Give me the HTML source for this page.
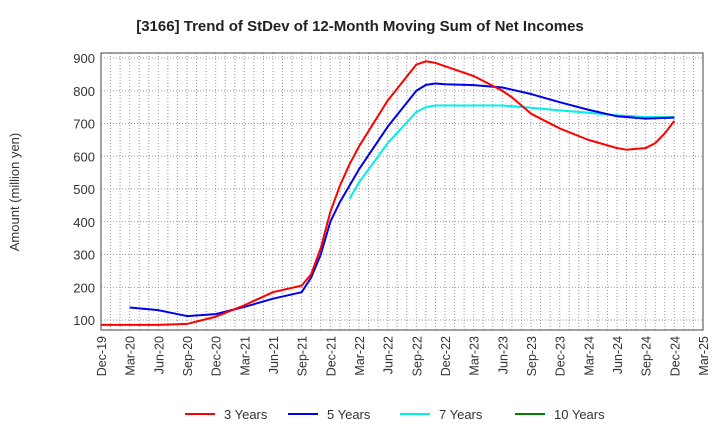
<!DOCTYPE html>
<html><head><meta charset="utf-8"><style>
body{margin:0;background:#fff;width:720px;height:440px;overflow:hidden;font-family:"Liberation Sans",sans-serif}
</style></head><body>
<svg id="c" width="720" height="440" xmlns="http://www.w3.org/2000/svg">
<text x="360" y="31" text-anchor="middle" font-size="15" font-weight="bold" fill="#222">[3166]  Trend of StDev of 12-Month Moving Sum of Net Incomes</text>
<text transform="translate(19,192) rotate(-90)" text-anchor="middle" font-size="13" fill="#333">Amount (million yen)</text>
<g id="grid"></g><g id="series"></g><g id="axes"></g>
<g font-size="13" fill="#333">
<line x1="185" y1="414" x2="215" y2="414" stroke="#ff0000" stroke-width="2"/><text x="224" y="419">3 Years</text>
<line x1="288" y1="414" x2="318" y2="414" stroke="#0000ee" stroke-width="2"/><text x="327" y="419">5 Years</text>
<line x1="400" y1="414" x2="430" y2="414" stroke="#00eeee" stroke-width="2"/><text x="439" y="419">7 Years</text>
<line x1="515" y1="414" x2="545" y2="414" stroke="#008000" stroke-width="2"/><text x="554" y="419">10 Years</text>
</g>
</svg>
<script>
const xTickLabels=["Dec-19","Mar-20","Jun-20","Sep-20","Dec-20","Mar-21","Jun-21","Sep-21","Dec-21","Mar-22","Jun-22","Sep-22","Dec-22","Mar-23","Jun-23","Sep-23","Dec-23","Mar-24","Jun-24","Sep-24","Dec-24","Mar-25"];
const yTicks=[100,200,300,400,500,600,700,800,900];
// month index from Dec-19
const redMonths=[0,3,6,9,12,15,18,21,22,23,24,25,26,27,30,33,34,35,36,39,42,43,45,48,51,54,55,57,58,59,60];
const redValues=[85,85,85,88,110,145,185,205,240,320,430,510,575,630,770,880,890,885,875,845,800,780,730,685,650,625,620,625,640,670,708];
const blueMonths=[3,6,9,12,15,18,21,22,23,24,25,26,27,30,33,34,35,36,39,42,45,48,51,54,57,60];
const blueValues=[138,130,112,118,140,165,185,230,300,400,460,510,560,690,800,818,822,820,817,810,790,765,742,722,715,718];
const cyanMonths=[26,27,30,33,34,35,36,39,42,45,48,51,54,57,60];
const cyanValues=[470,520,640,735,750,755,755,755,755,748,740,733,725,720,720];
const L=101,R=703,T=53,B=330,NM=63;
const x=m=>L+m*(R-L)/NM;
const y=v=>320-(v-100)*(320-58)/800;
const NS="http://www.w3.org/2000/svg";
function mk(t,a,p){const e=document.createElementNS(NS,t);for(const k in a)e.setAttribute(k,a[k]);p.appendChild(e);return e;}
const g=document.getElementById('grid'),ax=document.getElementById('axes'),s=document.getElementById('series');
for(let m=1;m<NM;m++){const l=mk('line',{x1:x(m),x2:x(m),y1:T,y2:B,stroke:'#999','stroke-dasharray':'1,2','stroke-width':1},g);
}
yTicks.forEach(v=>{const l=mk('line',{x1:L,x2:R,y1:y(v),y2:y(v),stroke:'#999','stroke-dasharray':'1,2'},g);

const t=mk('text',{x:L-6,y:y(v)+5,'text-anchor':'end','font-size':13,fill:'#333'},ax);t.textContent=v;
});
const f=mk('rect',{x:L,y:T,width:R-L,height:B-T,fill:'none',stroke:'#444'},ax);

xTickLabels.forEach((lb,i)=>{const xx=x(i*3);const t=mk('text',{transform:`translate(${xx+5},${B+6}) rotate(-90)`,'text-anchor':'end','font-size':12.5,fill:'#333'},ax);t.textContent=lb;
});
function line(ms,vs,c,n){const p=mk('polyline',{points:ms.map((m,i)=>x(m)+','+y(vs[i])).join(' '),fill:'none',stroke:c,'stroke-width':2,'stroke-linejoin':'round'},s);
}
line(cyanMonths,cyanValues,'#00eeee','series-7-years');
line(blueMonths,blueValues,'#0000ee','series-5-years');
line(redMonths,redValues,'#ff0000','series-3-years');
</script>
</body></html>
